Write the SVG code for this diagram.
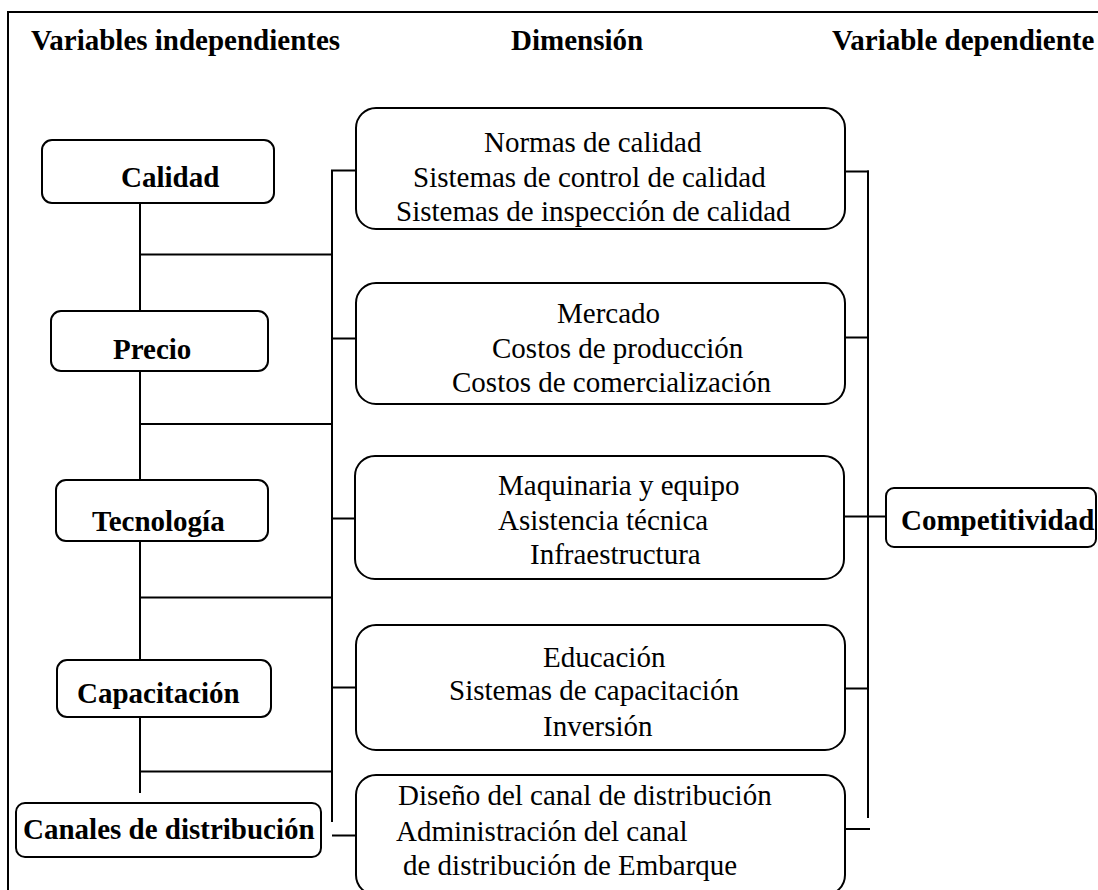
<svg xmlns="http://www.w3.org/2000/svg" width="1098" height="890" viewBox="0 0 1098 890">
<style>
.frame{stroke:#000;stroke-width:2;fill:none}
.node{fill:#fff;stroke:#000;stroke-width:2}
.ln{stroke:#000;stroke-width:2;fill:none}
.b{font-family:"Liberation Serif","Times New Roman",serif;font-weight:bold;font-size:29px;fill:#000}
.t{font-family:"Liberation Serif","Times New Roman",serif;font-size:29px;fill:#000}
</style>
<rect width="1098" height="890" fill="#fff"/>
<g id="frame">
<path class="frame" d="M8,900 V12 H1100"/>
</g>
<g id="headings">
<text class="b" x="31" y="50">Variables independientes</text>
<text class="b" x="511" y="50">Dimensión</text>
<text class="b" x="832" y="50">Variable dependiente</text>
</g>
<g id="connectors">
<path class="ln" d="M140,203 V311 M140,371 V480 M140,541 V660 M140,717 V793"/>
<path class="ln" d="M140,254.5 H332 M140,424 H332 M140,597.5 H332 M140,771.5 H332"/>
<path class="ln" d="M332,170.5 V822"/>
<path class="ln" d="M331,170.5 H356 M332,338.5 H356 M332,518.5 H356 M332,687.5 H356 M332,835.5 H356"/>
<path class="ln" d="M845,171.5 H869 M845,337.5 H869 M845,688.5 H869 M845,829 H870"/>
<path class="ln" d="M868,170.5 V818"/>
<path class="ln" d="M845,516.5 H886"/>
</g>
<g id="calidad">
<rect class="node" x="42" y="140" width="232" height="63" rx="10"/>
<text class="b" x="121" y="187">Calidad</text>
</g>
<g id="precio">
<rect class="node" x="51" y="311" width="217" height="60" rx="10"/>
<text class="b" x="113" y="359">Precio</text>
</g>
<g id="tecnologia">
<rect class="node" x="56" y="480" width="212" height="61" rx="10"/>
<text class="b" x="92" y="531">Tecnología</text>
</g>
<g id="capacitacion">
<rect class="node" x="57" y="660" width="214" height="57" rx="10"/>
<text class="b" x="77" y="703">Capacitación</text>
</g>
<g id="canales">
<rect class="node" x="16" y="803" width="305" height="54" rx="9"/>
<text class="b" x="23" y="839">Canales de distribución</text>
</g>
<g id="dim-calidad">
<rect class="node" x="356" y="108" width="489" height="121" rx="20"/>
<text class="t" x="484" y="152">Normas de calidad</text>
<text class="t" x="413" y="187">Sistemas de control de calidad</text>
<text class="t" x="396" y="221">Sistemas de inspección de calidad</text>
</g>
<g id="dim-precio">
<rect class="node" x="356" y="283" width="489" height="121" rx="20"/>
<text class="t" x="557" y="323">Mercado</text>
<text class="t" x="492" y="358">Costos de producción</text>
<text class="t" x="452" y="392">Costos de comercialización</text>
</g>
<g id="dim-tecnologia">
<rect class="node" x="355" y="456" width="489" height="123" rx="20"/>
<text class="t" x="498" y="495">Maquinaria y equipo</text>
<text class="t" x="498" y="530">Asistencia técnica</text>
<text class="t" x="530" y="564">Infraestructura</text>
</g>
<g id="dim-capacitacion">
<rect class="node" x="356" y="625" width="489" height="125" rx="20"/>
<text class="t" x="543" y="667">Educación</text>
<text class="t" x="449" y="700">Sistemas de capacitación</text>
<text class="t" x="543" y="736">Inversión</text>
</g>
<g id="dim-canales">
<rect class="node" x="356" y="775" width="489" height="120" rx="20"/>
<text class="t" x="398" y="805">Diseño del canal de distribución</text>
<text class="t" x="396" y="841">Administración del canal</text>
<text class="t" x="403" y="875">de distribución de Embarque</text>
</g>
<g id="competitividad">
<rect class="node" x="886" y="488" width="210" height="59" rx="8"/>
<text class="b" x="901" y="530">Competitividad</text>
</g>
</svg>
